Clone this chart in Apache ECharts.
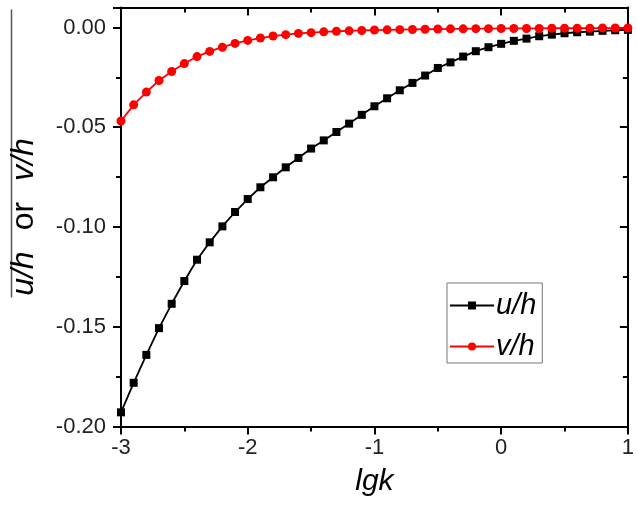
<!DOCTYPE html>
<html>
<head>
<meta charset="utf-8">
<script src="https://cdn.jsdelivr.net/npm/echarts@6/dist/echarts.min.js"></script>
<style>html,body{margin:0;padding:0;background:#fff}#c{width:637px;height:506px}</style>
</head>
<body>
<div id="c"></div>
<script>
const lgk = [-3.0,-2.9,-2.8,-2.7,-2.6,-2.5,-2.4,-2.3,-2.2,-2.1,-2.0,-1.9,-1.8,-1.7,-1.6,-1.5,-1.4,-1.3,-1.2,-1.1,-1.0,-0.9,-0.8,-0.7,-0.6,-0.5,-0.4,-0.3,-0.2,-0.1,0.0,0.1,0.2,0.3,0.4,0.5,0.6,0.7,0.8,0.9,1.0];
const uh = [-0.1929,-0.1781,-0.1641,-0.1507,-0.1385,-0.1271,-0.1164,-0.1077,-0.0997,-0.0925,-0.0860,-0.0801,-0.0751,-0.0701,-0.0654,-0.0607,-0.0566,-0.0524,-0.0482,-0.0438,-0.0395,-0.0355,-0.0315,-0.0278,-0.0241,-0.0203,-0.0175,-0.0146,-0.0119,-0.0099,-0.0082,-0.0067,-0.0056,-0.0044,-0.0036,-0.0029,-0.0024,-0.0021,-0.0017,-0.0014,-0.0012];
const vh = [-0.0469,-0.0388,-0.0324,-0.0266,-0.0221,-0.0181,-0.0146,-0.0120,-0.0099,-0.0080,-0.0065,-0.0053,-0.0043,-0.0036,-0.0030,-0.0026,-0.0022,-0.0019,-0.0017,-0.0015,-0.0013,-0.0012,-0.0011,-0.0010,-0.0009,-0.0008,-0.0007,-0.0007,-0.0006,-0.0006,-0.0005,-0.0005,-0.0005,-0.0005,-0.0004,-0.0004,-0.0004,-0.0004,-0.0003,-0.0003,-0.0003];
const seriesNames = ['u/h', 'v/h'];

const FONT = 'Liberation Sans, Arial, sans-serif';
const chart = echarts.init(document.getElementById('c'), null, {renderer: 'canvas'});
const axisLineStyle = {color: '#000', width: 2};
const baseX = {type: 'value', min: -3, max: 1, interval: 1, splitLine: {show: false}};
const baseY = {type: 'value', min: -0.2, max: 0.01, interval: 0.05, splitLine: {show: false}};
chart.setOption({
  animation: false,
  backgroundColor: '#fff',
  grid: {left: 118.5, right: 3, top: 7.5, bottom: 79.5, containLabel: false},
  legend: {
    orient: 'vertical', left: 447, top: 283,
    width: 98,
    padding: [8, 6, 2, 2],
    itemWidth: 44, itemHeight: 10, itemGap: 12,
    borderColor: '#777', borderWidth: 1,
    textStyle: {fontFamily: FONT, fontSize: 29, fontStyle: 'italic', color: '#000', lineHeight: 28, padding: [0, 0, 0, -3]},
    data: seriesNames
  },
  xAxis: [
    Object.assign({}, baseX, {
      position: 'bottom',
      name: 'lgk', nameLocation: 'middle', nameGap: 40,
      nameTextStyle: {fontFamily: FONT, fontSize: 30, fontStyle: 'italic', color: '#000'},
      axisLine: {show: true, onZero: false, lineStyle: axisLineStyle},
      axisTick: {show: true, inside: false, length: 8, lineStyle: {color: '#000', width: 2}},
      minorTick: {show: true, splitNumber: 2, length: 5, lineStyle: {color: '#000', width: 2}},
      axisLabel: {fontFamily: FONT, fontSize: 22, color: '#222', margin: 10}
    }),
    Object.assign({}, baseX, {
      position: 'top',
      axisLine: {show: true, onZero: false, lineStyle: axisLineStyle},
      axisTick: {show: true, inside: true, length: 8, lineStyle: {color: '#000', width: 2}},
      minorTick: {show: true, splitNumber: 2, length: 5, lineStyle: {color: '#000', width: 2}},
      axisLabel: {show: false}
    })
  ],
  yAxis: [
    Object.assign({}, baseY, {
      position: 'left',
      name: '{i|u/h}{n|or}{i|v/h}', nameLocation: 'middle', nameGap: 81, nameRotate: 90,
      nameTextStyle: {
        rich: {
          i: {fontFamily: FONT, fontSize: 32, fontStyle: 'italic', color: '#000'},
          n: {fontFamily: FONT, fontSize: 32, color: '#000', padding: [0, 21]}
        }
      },
      axisLine: {show: true, onZero: false, lineStyle: axisLineStyle},
      axisTick: {show: true, inside: false, length: 8, lineStyle: {color: '#000', width: 2}},
      minorTick: {show: true, splitNumber: 2, length: 5, lineStyle: {color: '#000', width: 2}},
      axisLabel: {fontFamily: FONT, fontSize: 22, color: '#222', margin: 15, showMaxLabel: false,
        formatter: v => v.toFixed(2)}
    }),
    Object.assign({}, baseY, {
      position: 'right',
      axisLine: {show: true, onZero: false, lineStyle: axisLineStyle},
      axisTick: {show: true, inside: true, length: 8, lineStyle: {color: '#000', width: 2}},
      minorTick: {show: true, splitNumber: 2, length: 5, lineStyle: {color: '#000', width: 2}},
      axisLabel: {show: false}
    })
  ],
  graphic: [{
    type: 'line', left: 9, top: 7,
    shape: {x1: 0, y1: 0, x2: 0, y2: 288},
    style: {stroke: '#555', lineWidth: 1.5}
  }],
  series: [
    {
      name: seriesNames[0], type: 'line', xAxisIndex: 0, yAxisIndex: 0,
      data: lgk.map((x, i) => [x, uh[i]]),
      symbol: 'rect', symbolSize: 8, clip: false,
      lineStyle: {color: '#000', width: 1.8},
      itemStyle: {color: '#000'}
    },
    {
      name: seriesNames[1], type: 'line', xAxisIndex: 0, yAxisIndex: 0,
      data: lgk.map((x, i) => [x, vh[i]]),
      symbol: 'circle', symbolSize: 9, clip: false,
      lineStyle: {color: '#ff0000', width: 1.8},
      itemStyle: {color: '#ff0000'}
    }
  ]
});
</script>
</body>
</html>
